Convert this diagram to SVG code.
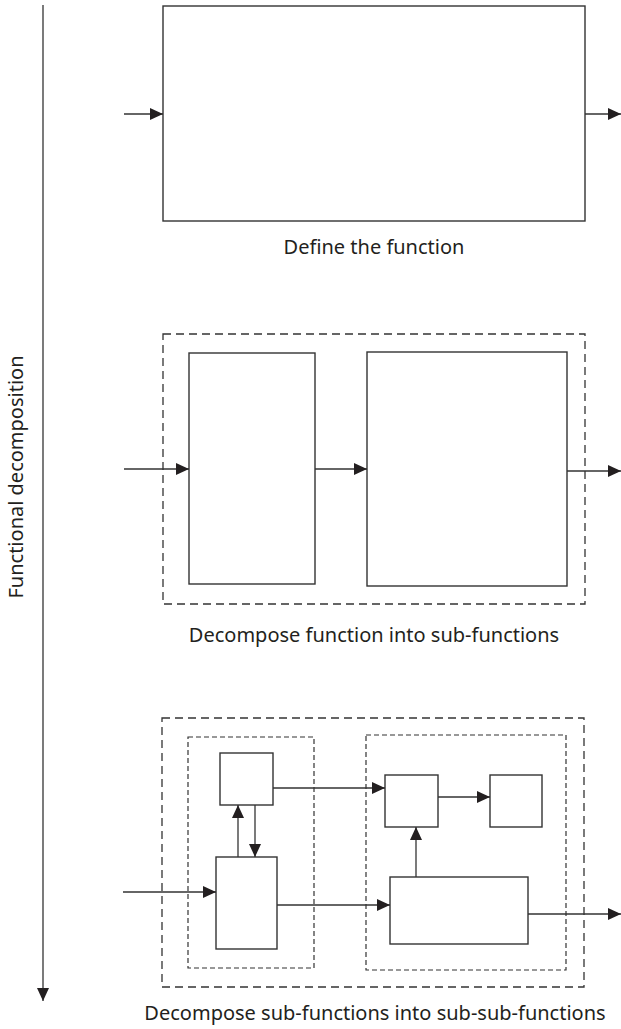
<svg xmlns="http://www.w3.org/2000/svg" width="621" height="1029" viewBox="0 0 621 1029">
  <style>
    .box { fill: #fff; stroke: #333; stroke-width: 1.4; }
    .frame { fill: none; stroke: #333; stroke-width: 1.3; stroke-dasharray: 8 5; }
    .subframe { fill: none; stroke: #333; stroke-width: 1.2; stroke-dasharray: 5 3; }
    .link { fill: none; stroke: #333; stroke-width: 1.3; marker-end: url(#head); }
    .label { font-family: "Noto Sans", "Open Sans", sans-serif; font-size: 20px; fill: #231f20; text-anchor: middle; }
  </style>
  <defs>
    <marker id="head" markerUnits="userSpaceOnUse" markerWidth="13" markerHeight="12" refX="13" refY="6" orient="auto">
      <path d="M0,0 L13,6 L0,12 Z" fill="#231f20"/>
    </marker>
  </defs>

  <!-- vertical axis -->
  <g id="axis">
    <line x1="43" y1="5" x2="43" y2="1001" class="link"/>
    <text class="label" transform="translate(23,477) rotate(-90)">Functional decomposition</text>
  </g>

  <!-- level 1 -->
  <g id="level1">
    <rect id="fn" class="box" x="163" y="6" width="422" height="215"/>
    <text class="label" x="374" y="254">Define the function</text>
  </g>

  <!-- level 2 -->
  <g id="level2">
    <rect class="frame" x="163" y="334" width="422" height="270"/>
    <rect id="sub1" class="box" x="189" y="353" width="126" height="231"/>
    <rect id="sub2" class="box" x="367" y="352" width="200" height="234"/>
    <text class="label" x="374" y="642">Decompose function into sub-functions</text>
  </g>

  <!-- level 3 -->
  <g id="level3">
    <rect class="frame" x="162" y="718" width="422" height="269"/>
    <rect class="subframe" x="188" y="737" width="126" height="231"/>
    <rect class="subframe" x="366" y="735" width="200" height="235"/>
    <rect id="ssA" class="box" x="220" y="753" width="53" height="52"/>
    <rect id="ssB" class="box" x="216" y="857" width="61" height="92"/>
    <rect id="ssC" class="box" x="385" y="775" width="53" height="52"/>
    <rect id="ssD" class="box" x="490" y="775" width="52" height="52"/>
    <rect id="ssE" class="box" x="390" y="877" width="138" height="67"/>
    <text class="label" x="375" y="1020">Decompose sub-functions into sub-sub-functions</text>
  </g>

  <!-- connectors -->
  <g id="connectors">
    <line class="link" x1="124" y1="114" x2="163" y2="114"/>
    <line class="link" x1="585" y1="114" x2="621" y2="114"/>

    <line class="link" x1="124" y1="469" x2="189" y2="469"/>
    <line class="link" x1="315" y1="469" x2="367" y2="469"/>
    <line class="link" x1="567" y1="471" x2="621" y2="471"/>

    <line class="link" x1="123" y1="892" x2="216" y2="892"/>
    <line class="link" x1="238" y1="857" x2="238" y2="805"/>
    <line class="link" x1="255" y1="805" x2="255" y2="857"/>
    <line class="link" x1="273" y1="788" x2="385" y2="788"/>
    <line class="link" x1="438" y1="797" x2="490" y2="797"/>
    <line class="link" x1="416" y1="877" x2="416" y2="827"/>
    <line class="link" x1="277" y1="905" x2="390" y2="905"/>
    <line class="link" x1="528" y1="914" x2="621" y2="914"/>
  </g>
</svg>
